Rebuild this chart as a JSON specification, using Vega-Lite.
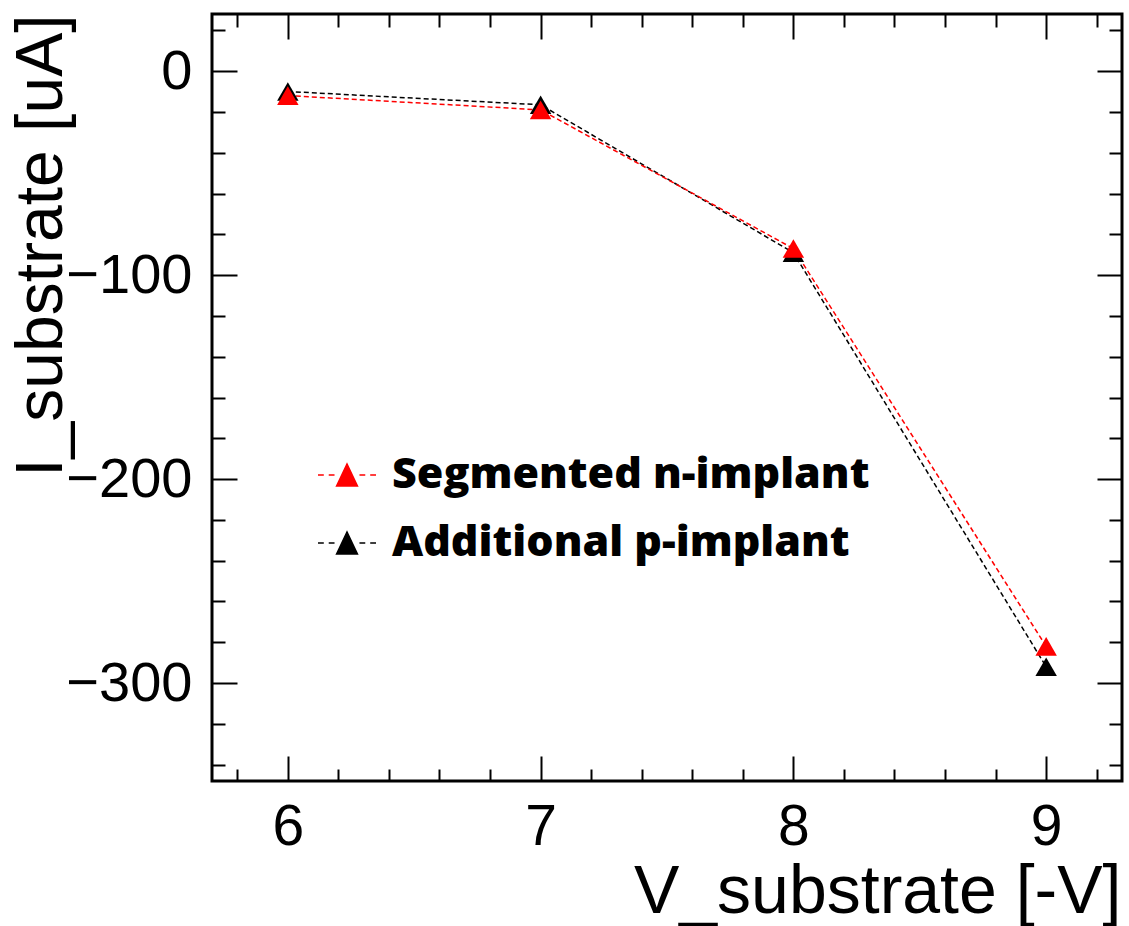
{
  "$schema": "https://vega.github.io/schema/vega-lite/v6.json",
  "width": 910,
  "height": 767,
  "autosize": {"type": "none"},
  "padding": {"left": 212, "top": 14, "right": 7, "bottom": 145},
  "background": "white",
  "config": {
    "view": {"stroke": "black", "strokeWidth": 3},
    "axis": {
      "grid": false,
      "domain": false,
      "labelFont": "Liberation Sans",
      "titleFont": "Liberation Sans",
      "tickColor": "black",
      "tickWidth": 2,
      "labelColor": "black",
      "titleColor": "black",
      "titleFontWeight": "normal"
    }
  },
  "data": {
    "values": [
      {"V": 6, "I": -10, "series": "Additional p-implant"},
      {"V": 7, "I": -16.5, "series": "Additional p-implant"},
      {"V": 8, "I": -89, "series": "Additional p-implant"},
      {"V": 9, "I": -292, "series": "Additional p-implant"},
      {"V": 6, "I": -12, "series": "Segmented n-implant"},
      {"V": 7, "I": -19, "series": "Segmented n-implant"},
      {"V": 8, "I": -87, "series": "Segmented n-implant"},
      {"V": 9, "I": -282, "series": "Segmented n-implant"}
    ]
  },
  "layer": [
    {
      "mark": {"type": "line", "strokeDash": [5, 3], "strokeWidth": 1.5},
      "encoding": {
        "x": {"field": "V", "type": "quantitative",
          "scale": {"domain": [5.7, 9.3], "nice": false, "zero": false},
          "axis": {"orient": "bottom", "values": [6, 7, 8, 9], "ticks": false, "labelFontSize": 57, "labelPadding": 18,
            "title": "V_substrate [-V]", "titleFontSize": 68, "titleAlign": "right", "titleAnchor": "end", "titleX": 909, "titleY": 131, "titleBaseline": "alphabetic"}},
        "y": {"field": "I", "type": "quantitative",
          "scale": {"domain": [-348, 28], "nice": false, "zero": false},
          "axis": {"orient": "left", "values": [-300, -200, -100, 0], "ticks": false, "labelFontSize": 56, "labelPadding": 20,
            "title": "I_substrate [uA]", "titleFontSize": 66, "titleAngle": -90, "titleAlign": "right", "titleAnchor": "end", "titleX": -151, "titleY": 0, "titleBaseline": "alphabetic"}},
        "color": {"field": "series", "type": "nominal",
          "scale": {"domain": ["Segmented n-implant", "Additional p-implant"], "range": ["#ff0000", "#000000"]},
          "legend": {
            "encode": {
              "labels": {
                "dy": {"value": {"expr": "datum.value === 'Segmented n-implant' ? -15 : 0"}},
                "dx": {"value": {"expr": "datum.value === 'Segmented n-implant' ? 0 : 8"}}}
            }
          }}
      }
    },
    {
      "mark": {"type": "point", "shape": "triangle-up", "filled": true, "size": 460, "opacity": 1},
      "encoding": {
        "x": {"field": "V", "type": "quantitative",
          "axis": {"orient": "bottom", "values": [6, 7, 8, 9], "labels": false, "tickSize": -25, "title": null}},
        "y": {"field": "I", "type": "quantitative",
          "axis": {"orient": "left", "values": [-300, -200, -100, 0], "labels": false, "tickSize": -25, "title": null}},
        "color": {"field": "series", "type": "nominal",
          "legend": {
            "orient": "none", "legendX": 105, "legendY": 431, "title": null, "padding": 0,
            "symbolType": "M-1,0L-0.8,0M-0.63,0L-0.43,0M0.43,0L0.63,0M0.8,0L1,0M-0.36,0.38L0,-0.38L0.36,0.38Z",
            "symbolSize": 3364, "symbolStrokeWidth": 1.5,
            "labelFont": "Open Sans", "labelFontSize": 43, "labelFontWeight": 800, "labelColor": "black", "labelOffset": 15,
            "labelLimit": 0,
            "rowPadding": 16,
            "encode": {
              "labels": {
                "dy": {"value": {"expr": "datum.value === 'Segmented n-implant' ? -15 : 0"}},
                "dx": {"value": {"expr": "datum.value === 'Segmented n-implant' ? 0 : 8"}}}
            }
          }}
      }
    },
    {
      "mark": {"type": "point", "opacity": 0},
      "encoding": {
        "x": {"field": "V", "type": "quantitative",
          "axis": {"orient": "top", "values": [6, 7, 8, 9], "labels": false, "tickSize": -25, "title": null}},
        "y": {"field": "I", "type": "quantitative",
          "axis": {"orient": "right", "values": [-300, -200, -100, 0], "labels": false, "tickSize": -25, "title": null}}
      }
    },
    {
      "mark": {"type": "point", "opacity": 0},
      "encoding": {
        "x": {"field": "V", "type": "quantitative",
          "axis": {"orient": "bottom", "values": [5.8, 6.2, 6.4, 6.6, 6.8, 7.2, 7.4, 7.6, 7.8, 8.2, 8.4, 8.6, 8.8, 9.2], "labels": false, "tickSize": -12, "title": null}},
        "y": {"field": "I", "type": "quantitative",
          "axis": {"orient": "left", "values": [-340, -320, -280, -260, -240, -220, -180, -160, -140, -120, -80, -60, -40, -20, 20], "labels": false, "tickSize": -13, "title": null}}
      }
    },
    {
      "mark": {"type": "point", "opacity": 0},
      "encoding": {
        "x": {"field": "V", "type": "quantitative",
          "axis": {"orient": "top", "values": [5.8, 6.2, 6.4, 6.6, 6.8, 7.2, 7.4, 7.6, 7.8, 8.2, 8.4, 8.6, 8.8, 9.2], "labels": false, "tickSize": -13, "title": null}},
        "y": {"field": "I", "type": "quantitative",
          "axis": {"orient": "right", "values": [-340, -320, -280, -260, -240, -220, -180, -160, -140, -120, -80, -60, -40, -20, 20], "labels": false, "tickSize": -13, "title": null}}
      }
    }
  ],
  "resolve": {"axis": {"x": "independent", "y": "independent"}}
}
